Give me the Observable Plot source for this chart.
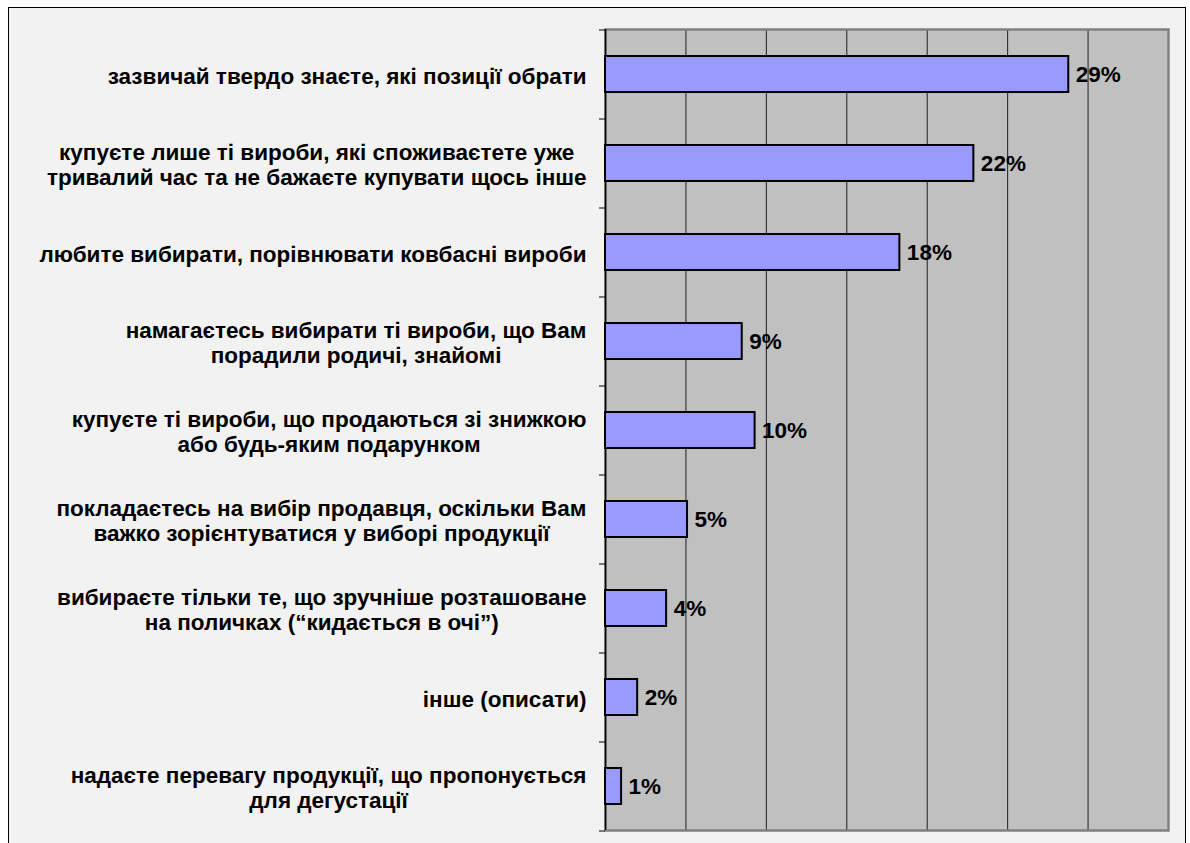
<!DOCTYPE html>
<html><head><meta charset="utf-8">
<script src="https://cdn.jsdelivr.net/npm/d3@7"></script>
<script src="https://cdn.jsdelivr.net/npm/@observablehq/plot@0.6"></script>
<style>
body{margin:0;background:#fff;width:1190px;height:843px;overflow:hidden;position:relative;font-family:"Liberation Sans",Arial,sans-serif}
#panel{position:absolute;left:8px;top:7px;width:1178px;height:880px;border:1.5px solid #000;background:#f2f2f2;box-sizing:border-box}
#chart{position:absolute;left:0;top:0}
</style></head><body><div id="panel"></div><div id="chart"></div>
<script>
const categories = [
  "зазвичай твердо знаєте, які позиції обрати",
  "купуєте лише ті вироби, які споживаєтете уже\nтривалий час та не бажаєте купувати щось інше",
  "любите вибирати, порівнювати ковбасні вироби",
  "намагаєтесь вибирати ті вироби, що Вам\nпорадили родичі, знайомі",
  "купуєте ті вироби, що продаються зі знижкою\nабо будь-яким подарунком",
  "покладаєтесь на вибір продавця, оскільки Вам\nважко зорієнтуватися у виборі продукції",
  "вибираєте тільки те, що зручніше розташоване\nна поличках (“кидається в очі”)",
  "інше (описати)",
  "надаєте перевагу продукції, що пропонується\nдля дегустації"
];
const values = [28.8, 22.9, 18.3, 8.5, 9.3, 5.1, 3.8, 2.0, 1.0];
const valueLabels = ["29%", "22%", "18%", "9%", "10%", "5%", "4%", "2%", "1%"];
const xTicks = [0, 5, 10, 15, 20, 25, 30, 35];

const W = 1190, H = 843, mTop = 29, mBottom = 13, mLeft = 605, mRight = 22;
const rows = categories.map((c, i) => ({category: c, value: values[i], label: valueLabels[i]}));
const step = (H - mTop - mBottom) / categories.length;
const FONT = 22.5;

const ctx = document.createElement("canvas").getContext("2d");
ctx.font = `bold ${FONT}px "Liberation Sans"`;
const widthOf = (s) => Math.max(...s.split("\n").map(l => ctx.measureText(l).width));

const labelMarks = rows.map(r => Plot.text([r], {
  x: 0, y: "category", text: "category",
  textAnchor: "middle", dx: -(19 + widthOf(r.category) / 2), dy: 1,
  fontSize: FONT, fontWeight: "bold", fill: "#000", lineHeight: 25 / FONT
}));

const chart = Plot.plot({
  width: W, height: H,
  marginTop: mTop, marginBottom: mBottom, marginLeft: mLeft, marginRight: mRight,
  style: {background: "transparent", fontFamily: "'Liberation Sans', Arial, sans-serif"},
  x: {domain: [0, 35], axis: null},
  y: {domain: categories, axis: null, paddingInner: 0.6, paddingOuter: 0.3},
  marks: [
    Plot.frame({fill: "#c0c0c0"}),
    Plot.gridX(xTicks, {stroke: "#000", strokeOpacity: 0.85, strokeWidth: 1}),
    Plot.frame({stroke: "#808080", strokeWidth: 2.5}),
    Plot.ruleX([0], {stroke: "#000", strokeWidth: 1.5}),
    Plot.ruleY(categories, {y: d => d, x1: 0, x2: 0, insetLeft: -6, dy: -step / 2, stroke: "#000"}),
    Plot.ruleY([categories[categories.length - 1]], {y: d => d, x1: 0, x2: 0, insetLeft: -6, dy: step / 2, stroke: "#000"}),
    Plot.barX(rows, {x: "value", y: "category", fill: "#9999ff", stroke: "#000", strokeWidth: 2}),
    Plot.text(rows, {x: "value", y: "category", text: "label", dx: 7, textAnchor: "start",
      fontSize: FONT, fontWeight: "bold", fill: "#000"}),
    ...labelMarks
  ]
});
document.getElementById("chart").appendChild(chart);
</script>
</body></html>
